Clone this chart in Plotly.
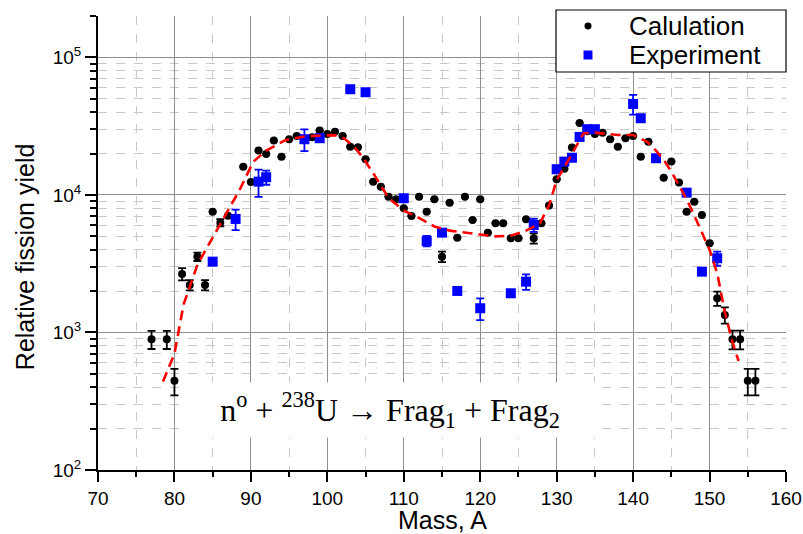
import plotly.graph_objects as go
import math

# ---------------- data ----------------
calc_A = [77, 79, 80, 81, 82, 83, 84, 85, 86, 87,
          89, 90, 91, 92, 93, 94, 95, 96,
          98, 99, 100, 101, 102, 103, 104, 105, 106, 107,
          108, 109, 110, 111, 112, 113, 114, 115, 116, 117,
          118, 119, 120, 121, 122, 123, 124, 125, 126, 127,
          128, 129, 130, 131, 132, 133, 134, 135, 136, 137,
          138, 139, 140, 141, 142, 143, 144, 145, 146, 147,
          148, 149, 150, 151, 152, 153, 154, 155, 156]
calc_Y = [893, 893, 446, 2665, 2216, 3558, 2216, 7558, 6288, 7071,
          16060, 12430, 21000, 19870, 24830, 18980, 25410, 26850,
          26280, 29360, 27770, 28860, 26850, 22450, 22230, 18180, 12490, 11490,
          9720, 9300, 8000, 7035, 9720, 7558, 9300, 3558, 8790, 4892,
          9720, 6580, 9300, 5320, 6225, 6225, 4842, 4842, 6655, 4842,
          6225, 8390, 13010, 15500, 22150, 33390, 29000, 27770, 28380, 25410,
          22450, 25840, 26850, 18980, 24410, 18580, 13360, 17470, 12290, 7558,
          8940, 7150, 4454, 1773, 1341, 893, 893, 446, 446]
calc_err_A = [77, 79, 80, 81, 82, 83, 84, 86, 115, 127, 151, 152, 153, 154, 155, 156]
calc_err_V = [135, 135, 97, 270, 190, 250, 190, 380, 310, 420, 210, 180, 140, 140, 97, 97]

exp_A = [85, 88, 91, 92, 97, 99, 103, 105, 110, 113, 115, 117, 120, 124,
         126, 127, 130, 131, 132, 133, 134, 135, 140, 141, 143, 147, 149, 151]
exp_Y = [3273, 6690, 12490, 13450, 25410, 25840, 58700, 55830, 9460, 4628, 5320, 2004, 1500, 1928,
         2342, 6050, 15380, 17470, 18640, 26410, 30050, 30050, 45890, 36120, 18490, 10390, 2768, 3465]
exp_err_A = [88, 91, 92, 97, 113, 120, 126, 127, 140, 151]
exp_err_V = [1140, 2800, 1590, 4600, 400, 270, 300, 660, 7500, 410]

fit_A = [78.5, 80, 81.2, 83, 85, 87, 88.5, 90.3, 92, 94.5, 97, 99, 101, 102.2, 103.5,
         104.7, 106, 108, 110, 112, 114, 116, 118, 120, 122, 124, 126, 127.8, 129, 130,
         131.8, 133.5, 135, 136.5, 138, 140, 141.8, 143, 144, 145, 146, 147, 148, 149,
         150, 151, 152, 153, 153.8]
fit_Y = [440, 700, 1600, 3100, 4900, 7600, 10800, 17400, 21000, 25000, 26600, 27000, 27200, 25800, 22500,
         18500, 14400, 9500, 7700, 6800, 5900, 5500, 5300, 5150, 5000, 5050, 5500, 6200, 8400, 12800,
         19000, 28000, 28400, 28000, 27300, 27300, 24400, 21000, 18000, 14800, 11800, 9300, 7100, 5400,
         4000, 2700, 1400, 850, 620]

series_names = ["Calulation", "Experiment"]
x_range = [70, 160]
y_range_vals = [1e2, 2e5]
y_tick_vals = [1e2, 1e3, 1e4, 1e5]
y_tick_text = ["10<sup>2</sup>", "10<sup>3</sup>", "10<sup>4</sup>", "10<sup>5</sup>"]
x_title = "Mass, A"
y_title = "Relative fission yield"
reaction_text = "n<sup>o</sup> + <sup>238</sup>U → Frag<sub>1</sub> + Frag<sub>2</sub>"

# ---------------- build ----------------
calc_err = [calc_err_V[calc_err_A.index(a)] if a in calc_err_A else 0 for a in calc_A]
exp_err = [exp_err_V[exp_err_A.index(a)] if a in exp_err_A else 0 for a in exp_A]

fig = go.Figure()
fig.add_trace(go.Scatter(
    x=calc_A, y=calc_Y, mode="markers", name=series_names[0], showlegend=False,
    marker=dict(symbol="circle", size=8, color="black"),
    error_y=dict(type="data", array=calc_err, visible=True, color="black", thickness=1.8, width=4),
))
fig.add_trace(go.Scatter(
    x=exp_A, y=exp_Y, mode="markers", name=series_names[1], showlegend=False,
    marker=dict(symbol="square", size=10, color="#0000FF"),
    error_y=dict(type="data", array=exp_err, visible=True, color="#0000FF", thickness=1.8, width=4),
))
fig.add_trace(go.Scatter(
    x=fit_A, y=fit_Y, mode="lines", showlegend=False,
    line=dict(color="#FF0000", width=2.6, dash="10px,6px"),
))

minor_y = [m * 10 ** e for e in range(2, 6) for m in range(2, 10) if m * 10 ** e <= 2e5]

# legend box drawn in paper coordinates
LX0, LX1, LY0, LY1 = 0.6657, 1.0, 0.8767, 1.0132
MX, TX = 0.7122, 0.7689
ROW1, ROW2 = 0.978, 0.9141
shapes = [
    dict(type="rect", xref="paper", yref="paper", x0=LX0, x1=LX1, y0=LY0, y1=LY1,
         fillcolor="white", line=dict(color="black", width=1.2), layer="above"),
    dict(type="circle", xref="paper", yref="paper", x0=MX - 0.0051, x1=MX + 0.0051,
         y0=ROW1 - 0.0077, y1=ROW1 + 0.0077, fillcolor="black", line=dict(width=0), layer="above"),
    dict(type="rect", xref="paper", yref="paper", x0=MX - 0.0065, x1=MX + 0.0065,
         y0=ROW2 - 0.0099, y1=ROW2 + 0.0099, fillcolor="#0000FF", line=dict(width=0), layer="above"),
]

fig.update_layout(
    width=803, height=534,
    margin=dict(l=98, r=17, t=16, b=64, autoexpand=False),
    paper_bgcolor="white", plot_bgcolor="white",
    font=dict(family="Liberation Sans, Arial, sans-serif", color="black"),
    showlegend=False,
    hovermode=False,
    shapes=shapes,
    xaxis=dict(
        range=x_range, dtick=10, tick0=70, automargin=False,
        showline=True, linecolor="black", linewidth=2,
        ticks="outside", ticklen=10, tickwidth=2, tickcolor="black",
        tickfont=dict(size=19),
        showgrid=True, gridcolor="#8f8f8f", gridwidth=1,
        zeroline=False,
        minor=dict(dtick=5, ticks="outside", ticklen=5, tickwidth=2, tickcolor="black",
                   showgrid=True, gridcolor="#c8c8c8", griddash="dash", gridwidth=1),
    ),
    yaxis=dict(
        type="log", range=[math.log10(y_range_vals[0]), math.log10(y_range_vals[1])],
        tickmode="array", tickvals=y_tick_vals, ticktext=y_tick_text, automargin=False,
        showline=True, linecolor="black", linewidth=2,
        ticks="outside", ticklen=11, tickwidth=2, tickcolor="black",
        tickfont=dict(size=19),
        showgrid=True, gridcolor="#8f8f8f", gridwidth=1,
        zeroline=False,
        minor=dict(tickmode="array", tickvals=minor_y, ticks="outside", ticklen=6, tickwidth=2,
                   tickcolor="black", showgrid=True, gridcolor="#c8c8c8", griddash="dash", gridwidth=1),
    ),
    annotations=[
        dict(text=x_title, xref="paper", yref="paper", x=0.5, y=-0.111,
             xanchor="center", yanchor="middle", showarrow=False,
             font=dict(size=25, family="Liberation Sans, Arial, sans-serif")),
        dict(text=y_title, xref="paper", yref="paper", x=-0.106, y=0.469,
             xanchor="center", yanchor="middle", showarrow=False, textangle=-90,
             font=dict(size=25, family="Liberation Sans, Arial, sans-serif")),
        dict(text=reaction_text, xref="paper", yref="paper", x=0.4244, y=0.132,
             xanchor="center", yanchor="middle", showarrow=False,
             width=416, height=54, bgcolor="white", borderpad=0,
             font=dict(size=32, family="Liberation Serif, Times New Roman, serif")),
        dict(text=series_names[0], xref="paper", yref="paper", x=TX, y=ROW1,
             xanchor="left", yanchor="middle", showarrow=False,
             font=dict(size=26, family="Liberation Sans, Arial, sans-serif")),
        dict(text=series_names[1], xref="paper", yref="paper", x=TX, y=ROW2,
             xanchor="left", yanchor="middle", showarrow=False,
             font=dict(size=26, family="Liberation Sans, Arial, sans-serif")),
    ],
)

fig.write_html("out.html",
               config={"displayModeBar": False, "staticPlot": True},
               post_script="document.body.style.margin='0';document.body.style.overflow='hidden';")
